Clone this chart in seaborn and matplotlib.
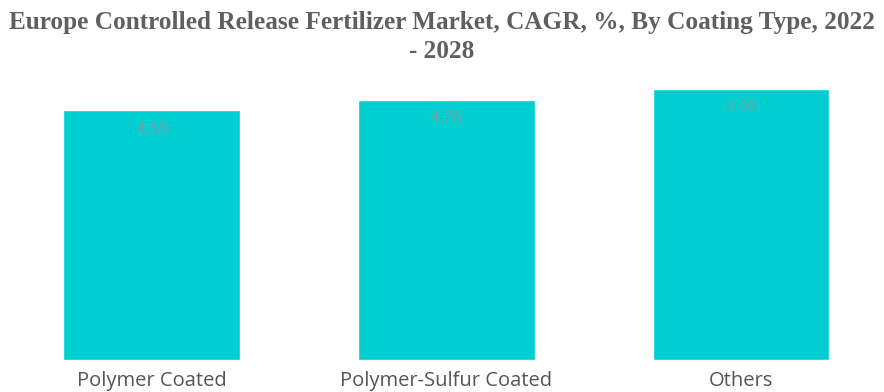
import matplotlib
matplotlib.use("Agg")
import matplotlib.pyplot as plt
import seaborn as sns
import pandas as pd

# CAGR by coating type, 2022-2028
coating_types = ["Polymer Coated", "Polymer-Sulfur Coated", "Others"]
cagr_values = [4.59, 4.78, 4.98]

df = pd.DataFrame({"coating": coating_types, "cagr": cagr_values})

sns.set_theme(style="white")

fig = plt.figure(figsize=(8.84, 3.92), dpi=100)
ax = fig.add_axes([0.005, 0.0816, 1.0, 0.6914])

sns.barplot(
    data=df, x="coating", y="cagr", ax=ax,
    color="#00CED1", width=0.6, saturation=1,
)

ax.set_xlim(-0.5, 2.5)
ax.set_ylim(0, 4.98)

# value labels just inside the top of each bar
for i, v in enumerate(cagr_values):
    ax.text(i, v - 0.19, f"{v:.2f}", ha="center", va="top",
            fontsize=13.5, color="#72a2a6", family="Liberation Serif")

ax.set_xlabel("")
ax.set_ylabel("")
ax.set_yticks([])
ax.tick_params(axis="x", length=0, pad=8)
for lbl in ax.get_xticklabels():
    lbl.set_fontfamily("Open Sans")
    lbl.set_fontsize(14.5)
    lbl.set_color("#555555")
for s in ax.spines.values():
    s.set_visible(False)

fig.text(0.5, 0.906,
         "Europe Controlled Release Fertilizer Market, CAGR, %, By Coating Type, 2022\n- 2028",
         ha="center", va="center", fontsize=18.2, fontweight="bold",
         family="Liberation Serif", color="#5f5f5f", linespacing=1.35)

fig.savefig("out.png", dpi=100)
